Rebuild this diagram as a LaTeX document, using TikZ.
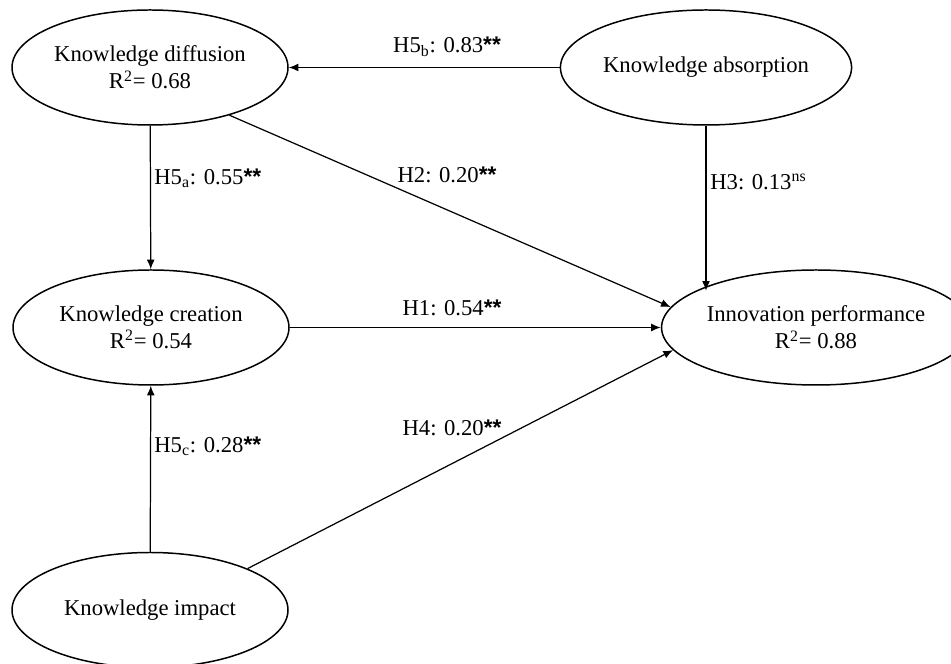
\documentclass[tikz,border=0pt]{standalone}
\usepackage{fontspec}
\setmainfont{Liberation Serif}
\newfontfamily\starfont{Liberation Sans}
\usepackage{tikz}
\usetikzlibrary{arrows.meta,shapes}

\newcommand{\sigstars}{{\starfont\bfseries **}}

\tikzset{
  latent/.style={draw,ellipse,line width=0.85pt,minimum width=5.52cm,minimum height=2.3cm,inner sep=0pt,align=center,font=\fontsize{12.9}{15.3}\selectfont},
  coef/.style={font=\fontsize{12.9}{15.3}\selectfont,inner sep=0pt},
  path/.style={draw,line width=0.7pt,-{Latex[length=5.5pt,width=4.5pt]}}
}

\begin{document}
\begin{tikzpicture}
\useasboundingbox (0,0) rectangle (19.02,13.28);

%%% CONSTRUCTS
\path (3.0,11.93) node[latent] (nodeDiff) {Knowledge diffusion\\R\textsuperscript{2}= 0.68};
\path (14.12,11.93) node[latent] (nodeAbs) {Knowledge absorption};
\path (3.02,6.73) node[latent] (nodeCre) {Knowledge creation\\R\textsuperscript{2}= 0.54};
\path (16.32,6.73) node[latent,minimum width=5.36cm] (nodeInn) {Innovation performance\\R\textsuperscript{2}= 0.88};
\path (3.0,1.08) node[latent] (nodeImp) {Knowledge impact};

%%% PATHS
\path[path] (nodeAbs) -- (nodeDiff);
\path[path] (nodeDiff) -- (nodeCre);
\path[path] (nodeDiff.-31) -- (nodeInn.172);
\path[path] (nodeAbs.south) -- (nodeAbs.south |- nodeInn.163);
\path[path] (nodeCre) -- (nodeInn);
\path[path] (nodeImp) -- (nodeCre);
\path[path] (nodeImp.23) -- (nodeInn.-171);

%%% COEFFICIENTS
\path (8.94,12.34) node[coef] (coefB) {H5\textsubscript{b}: 0.83\sigstars};
\path (3.08,9.72) node[coef,anchor=west] (coefA) {H5\textsubscript{a}: 0.55\sigstars};
\path (8.94,9.78) node[coef] (coefH2) {H2: 0.20\sigstars};
\path (14.2,9.64) node[coef,anchor=west] (coefH3) {H3: 0.13\textsuperscript{ns}};
\path (9.04,7.12) node[coef] (coefH1) {H1: 0.54\sigstars};
\path (9.04,4.72) node[coef] (coefH4) {H4: 0.20\sigstars};
\path (3.08,4.36) node[coef,anchor=west] (coefC) {H5\textsubscript{c}: 0.28\sigstars};
\end{tikzpicture}
\end{document}
